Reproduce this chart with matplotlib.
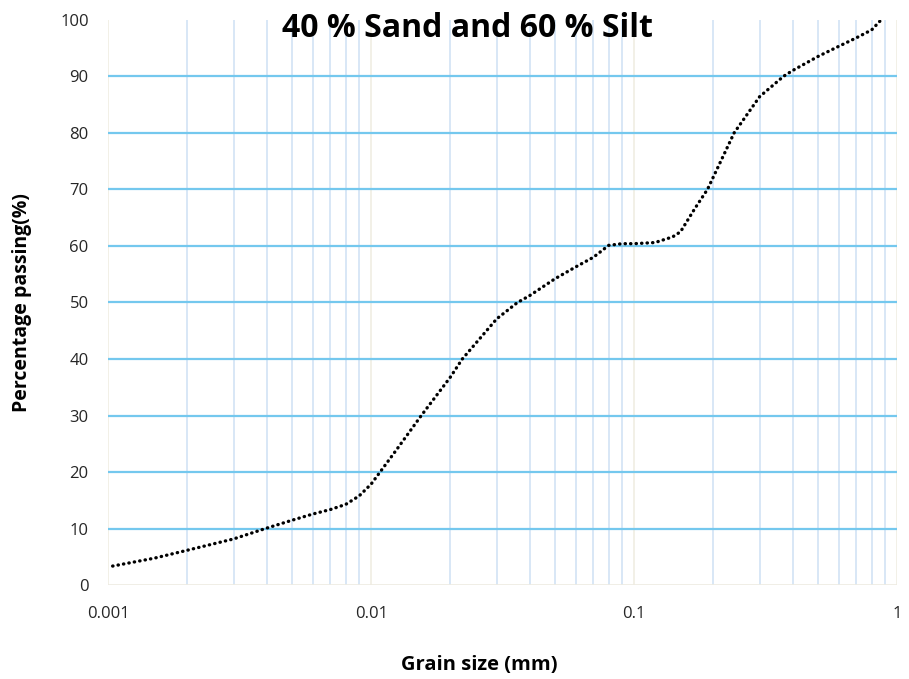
import numpy as np
import matplotlib.pyplot as plt
from matplotlib.ticker import LogLocator, FixedLocator, FixedFormatter, NullFormatter

plt.rcParams['font.family'] = ['Open Sans', 'DejaVu Sans']

# grain size distribution (mm, % passing)
grain_size = [0.00104, 0.0015, 0.002, 0.003, 0.004, 0.005, 0.006, 0.007, 0.008, 0.009,
              0.01, 0.011, 0.0125, 0.0155, 0.02, 0.0222, 0.03, 0.036, 0.04, 0.05,
              0.06, 0.07, 0.08, 0.09, 0.1, 0.12, 0.14, 0.15, 0.17, 0.19,
              0.2, 0.24, 0.3, 0.37, 0.4, 0.5, 0.6, 0.7, 0.8, 0.87]
passing = [3.4, 4.8, 6.2, 8.2, 10.1, 11.5, 12.6, 13.4, 14.3, 15.8,
           17.9, 20.5, 24.0, 30.0, 36.8, 40.0, 47.1, 50.0, 51.2, 54.2,
           56.3, 58.0, 60.1, 60.4, 60.4, 60.6, 61.6, 62.5, 66.6, 70.0,
           72.2, 80.0, 86.4, 90.0, 91.0, 93.5, 95.3, 96.8, 98.2, 100.0]

x_ticks = [0.001, 0.01, 0.1, 1]
x_tick_labels = ['0.001', '0.01', '0.1', '1']
y_ticks = list(range(0, 101, 10))

fig = plt.figure(figsize=(9.09, 6.79), dpi=100)
ax = fig.add_axes([0.119, 0.138, 0.868, 0.833])

ax.plot(grain_size, passing, color='black', linewidth=2.4,
        linestyle=(0, (0.1, 1.55)), dash_capstyle='round', zorder=3)

ax.set_xscale('log')
ax.set_xlim(0.001, 1)
ax.set_ylim(0, 100)

ax.xaxis.set_major_locator(FixedLocator(x_ticks))
ax.xaxis.set_major_formatter(FixedFormatter(x_tick_labels))
ax.xaxis.set_minor_locator(LogLocator(base=10, subs=np.arange(2, 10)))
ax.xaxis.set_minor_formatter(NullFormatter())
ax.set_yticks(y_ticks)

# grid: blue horizontals, pale minor verticals, faint decade lines
ax.grid(True, axis='x', which='minor', color='#d2e3f5', linewidth=1.2)
ax.grid(True, axis='x', which='major', color='#f0ede3', linewidth=1.2)
ax.grid(True, axis='y', which='major', color='#74c8ee', linewidth=1.6)
ygl = ax.yaxis.get_gridlines()
ygl[0].set_color('#eeebe2')
ygl[0].set_linewidth(1.2)
ygl[-1].set_visible(False)
ax.set_axisbelow(True)

for s in ax.spines.values():
    s.set_visible(False)

ax.tick_params(axis='both', which='both', length=0, labelsize=12, labelcolor='#262626')
ax.tick_params(axis='x', pad=15)
ax.tick_params(axis='y', pad=14)

ax.set_ylabel('Percentage passing(%)', fontsize=14, fontweight='bold', labelpad=20)
fig.text(0.527, 0.021, 'Grain size (mm)', fontsize=14.5, fontweight='bold',
         ha='center', va='center')

fig.text(0.514, 0.958, '40 % Sand and 60 % Silt', fontsize=23, fontweight='bold',
         ha='center', va='center')

fig.savefig('out.png', dpi=100)
